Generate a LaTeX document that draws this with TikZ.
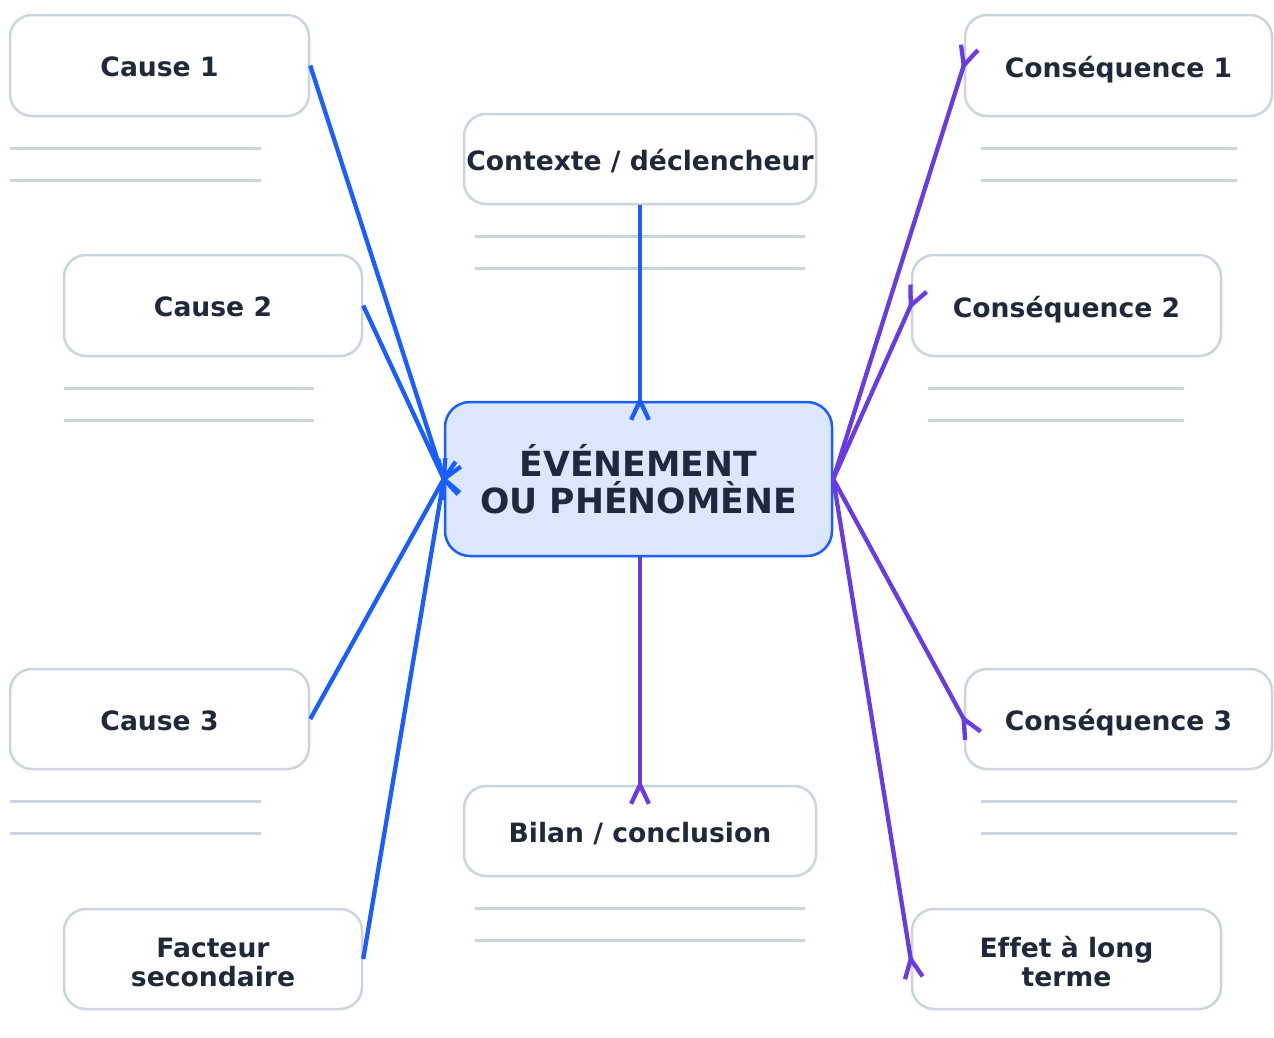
\documentclass[tikz,border=0pt]{standalone}
\usepackage{fontspec}
\setmainfont{DejaVu Sans}[Ligatures=NoCommon]
\usetikzlibrary{calc}
\definecolor{navy}{HTML}{1E293B}
\definecolor{bordergray}{HTML}{CBD5E1}
\definecolor{linkblue}{HTML}{1A5EFF}
\definecolor{linkpurple}{HTML}{6A3BE4}
\definecolor{centerfill}{HTML}{DCE7FD}
\tikzset{
  box/.style={draw=bordergray, line width=2.5pt, fill=white, rounded corners=22pt,
    align=center, text=navy, font=\fontsize{26.6}{29}\selectfont\bfseries, inner sep=0pt},
  centerbox/.style={draw=linkblue, line width=2.5pt, fill=centerfill, rounded corners=25pt,
    align=center, text=navy, font=\fontsize{34.6}{37}\selectfont\bfseries, inner sep=0pt},
  noteline/.style={draw=bordergray, line width=3pt},
  bluelink/.style={draw=linkblue, line width=4.3pt},
  purplelink/.style={draw=linkpurple, line width=4.3pt},
}
\newcommand{\mylbl}[2]{\raisebox{#1}[\height][\depth]{\begin{tabular}{@{}c@{}}#2\end{tabular}}}
\newcommand{\mybarb}[3]{%
  \draw[#3, line cap=butt] ($(#2)!21pt!155:(#1)$) -- (#2) -- ($(#2)!21pt!-155:(#1)$);}
\begin{document}
\begin{tikzpicture}[x=1pt,y=-1pt]
\path[use as bounding box] (0,0) rectangle (1274,1037);
% nodes
\node[centerbox, minimum width=387pt, minimum height=154pt] (ev) at (638.5,479) {ÉVÉNEMENT\\OU PHÉNOMÈNE};
\node[box, minimum width=299pt, minimum height=101pt] (c1) at (159.5,65.5) {\mylbl{-5.5pt}{Cause 1}};
\node[box, minimum width=298pt, minimum height=101pt] (c2) at (213,305.5) {\mylbl{-5.5pt}{Cause 2}};
\node[box, minimum width=299pt, minimum height=100pt] (c3) at (159.5,719) {\mylbl{-5.5pt}{Cause 3}};
\node[box, minimum width=298pt, minimum height=100pt] (fs) at (213,959) {\mylbl{-7pt}{Facteur\\secondaire}};
\node[box, minimum width=352pt, minimum height=90pt] (ctx) at (640,159) {\mylbl{-5.5pt}{Contexte / déclencheur}};
\node[box, minimum width=352pt, minimum height=90pt] (bil) at (640,831) {\mylbl{-5.5pt}{Bilan / conclusion}};
\node[box, minimum width=307pt, minimum height=101pt] (q1) at (1118.5,65.5) {\mylbl{-5.5pt}{Conséquence 1}};
\node[box, minimum width=309pt, minimum height=101pt] (q2) at (1066.5,305.5) {\mylbl{-5.5pt}{Conséquence 2}};
\node[box, minimum width=307pt, minimum height=100pt] (q3) at (1118.5,719) {\mylbl{-5.5pt}{Conséquence 3}};
\node[box, minimum width=309pt, minimum height=100pt] (lt) at (1066.5,959) {\mylbl{-7pt}{Effet à long\\terme}};
% note lines
\foreach \xa/\xb/\ya in {10/261/148, 10/261/180, 64/314/388, 64/314/420, 10/261/801, 10/261/833,
  475/805/236, 475/805/268, 475/805/908, 475/805/940,
  981/1237/148, 981/1237/180, 928/1184/388, 928/1184/420, 981/1237/801, 981/1237/833}
  \draw[noteline] (\xa,\ya) -- (\xb,\ya);
% causes
\foreach \n in {c1,c2,c3,fs}{
  \draw[bluelink] (\n.east) -- (ev.west);
  \mybarb{\n.east}{ev.west}{bluelink}
}
\coordinate (evtop) at (ctx.south |- ev.north);
\draw[bluelink] (ctx.south) -- (evtop);
\mybarb{ctx.south}{evtop}{bluelink}
% consequences
\foreach \n in {q1,q2,q3,lt}{
  \draw[purplelink] (ev.east) -- (\n.west);
  \mybarb{ev.east}{\n.west}{purplelink}
}
\coordinate (evbot) at (bil.north |- ev.south);
\draw[purplelink] (evbot) -- (bil.north);
\mybarb{evbot}{bil.north}{purplelink}
\end{tikzpicture}
\end{document}
